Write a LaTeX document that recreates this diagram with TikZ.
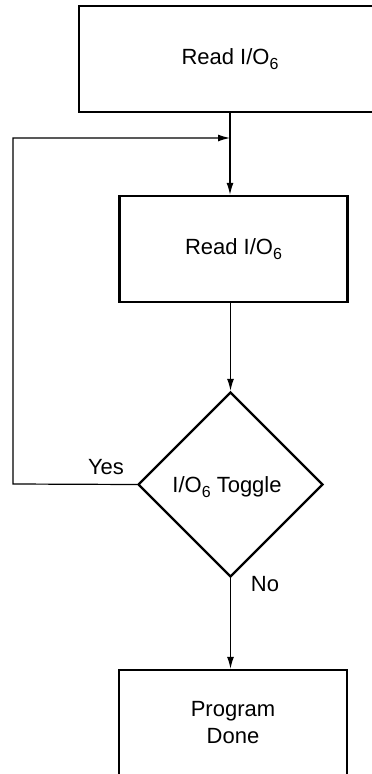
\documentclass[tikz,border=0pt]{standalone}
\usepackage{fontspec}
\setmainfont{Liberation Sans}
\usetikzlibrary{arrows.meta,shapes.geometric}
\newcommand{\mysubsix}{\raisebox{-0.22em}{\fontsize{16}{16}\selectfont 6}}
\tikzset{
  boxnode/.style={draw, line width=2.4pt, inner sep=0pt, align=center},
  decnode/.style={draw, diamond, line width=2.4pt, inner sep=0pt, aspect=1,
                  minimum width=185pt, minimum height=185pt},
  conn/.style={line width=1.2pt, -{Latex[length=12pt,width=7pt]}},
  plain/.style={line width=1.2pt},
  lbl/.style={inner sep=0pt}
}
\begin{document}
\begin{tikzpicture}[x=1pt,y=-1pt, font=\fontsize{22}{27}\selectfont]
\useasboundingbox (0,0) rectangle (372,774);
\clip (0,0) rectangle (372,774);
\node[boxnode, minimum width=302pt, minimum height=106pt] (read1) at (230,59) {Read I/O\mysubsix};
\node[boxnode, minimum width=228pt, minimum height=106pt] (read2) at (233.5,249) {Read I/O\mysubsix};
\node[decnode] (dec) at (230.5,484.5) {};
\node[lbl] (dectext) at (227,487) {I/O\mysubsix{} Toggle};
\node[boxnode, minimum width=228pt, minimum height=106pt] (done) at (233,723) {Program\\Done};
\coordinate (join) at (230,138);
\coordinate (loopl) at (13,484);
\node[lbl] (yes) at (106,467) {Yes};
\node[lbl] (no) at (265,584) {No};
\draw[plain] (read1.south) -- (join);
\draw[conn] (join) -- (read2.north -| join);
\draw[conn] (read2.south -| dec.north) -- (dec.north);
\draw[conn] (dec.west) -- (loopl) |- (join);
\draw[conn] (dec.south) -- (done.north -| dec.south);
\end{tikzpicture}
\end{document}
